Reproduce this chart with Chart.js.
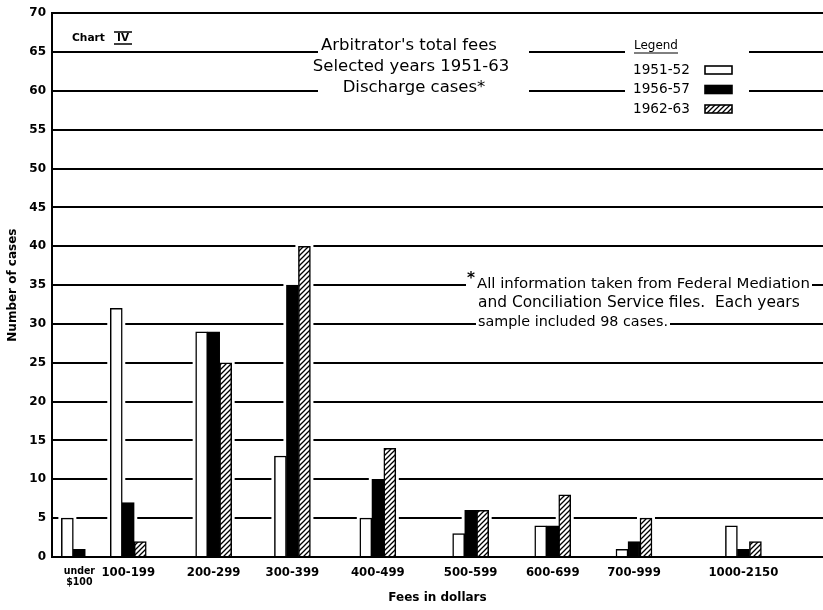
<!DOCTYPE html>
<html lang="en">
<head>
<meta charset="UTF-8">
<title>Arbitrator's total fees</title>
<style>
  html,body{margin:0;padding:0;background:#fff;}
  #wrap{width:823px;height:610px;}
</style>
<script src="https://cdn.jsdelivr.net/npm/chart.js"></script>
</head>
<body>
<div id="wrap"><canvas id="c" width="823" height="610"></canvas></div>
<script>
// fee classes, in the order of the original chart
const categories = [['under', '$100'], '100-199', '200-299', '300-399', '400-499', '500-599', '600-699', '700-999', '1000-2150'];
// the groups are not evenly spaced in the original, so x is a slot number
const slots = [0.33, 0.92, 1.95, 2.9, 3.93, 5.05, 6.04, 7.02, 8.34];
const seriesNames = ['1951-52', '1956-57', '1962-63'];
const cases1951 = [5, 32, 29, 13, 5, 3, 4, 1, 4];
const cases1956 = [1, 7, 29, 35, 10, 6, 4, 2, 1];
const cases1962 = [0, 2, 25, 40, 14, 6, 8, 5, 2];
const yTicks = [0, 5, 10, 15, 20, 25, 30, 35, 40, 45, 50, 55, 60, 65, 70];

const FONT = '"DejaVu Sans", Verdana, sans-serif';
const NARROW = '"DejaVu Sans Condensed", "Liberation Sans Narrow", "Liberation Sans", sans-serif';
const ctx = document.getElementById('c').getContext('2d');

// "/" hatching like the 1962-63 bars
function makeHatch() {
  const p = document.createElement('canvas');
  p.width = 5; p.height = 5;
  const g = p.getContext('2d');
  g.fillStyle = '#fff'; g.fillRect(0, 0, 5, 5);
  g.strokeStyle = '#000'; g.lineWidth = 1.3;
  g.beginPath();
  g.moveTo(-1, 6); g.lineTo(6, -1);
  g.moveTo(-1, 1); g.lineTo(1, -1);
  g.moveTo(4, 6); g.lineTo(6, 4);
  g.stroke();
  return ctx.createPattern(p, 'repeat');
}
const hatch = makeHatch();
const fills = ['#fff', '#000', hatch];
const values = [cases1951, cases1956, cases1962];

// write a line so that it is as wide as in the scan
function textTo(c, str, x, y, width, weight, align) {
  c.font = weight + ' 20px ' + FONT;
  const size = 20 * width / c.measureText(str).width;
  c.font = weight + ' ' + size.toFixed(2) + 'px ' + FONT;
  c.textAlign = align || 'left';
  c.fillText(str, x, y);
}

// white gaps in the grid behind the texts and around each bar, then the texts
const paperText = {
  id: 'paperText',
  beforeDatasetsDraw(chart) {
    const c = chart.ctx;
    c.save();
    c.fillStyle = '#fff';
    c.fillRect(318, 36, 211, 64);   // title
    c.fillRect(625, 36, 124, 64);   // legend
    c.fillRect(466, 276, 346, 18);  // footnote line 1
    c.fillRect(476, 315, 194, 18);  // footnote line 3
    chart.data.datasets.forEach((ds, i) => {
      chart.getDatasetMeta(i).data.forEach(bar => {
        if (!bar.height) return;
        c.fillRect(bar.x - bar.width / 2 - 3, bar.y - 3, bar.width + 6, bar.base - bar.y + 2);
      });
    });
    c.restore();
  },
  afterDraw(chart) {
    const c = chart.ctx;
    c.save();
    c.fillStyle = '#000';
    c.strokeStyle = '#000';
    c.textBaseline = 'middle';

    // Chart IV
    textTo(c, 'Chart', 72, 38, 33, 'bold');
    textTo(c, 'IV', 117, 38, 12, 'bold');
    c.lineWidth = 1.4;
    c.beginPath();
    c.moveTo(114, 32); c.lineTo(132, 32);
    c.moveTo(114, 44); c.lineTo(132, 44);
    c.stroke();

    // title
    c.font = '16.5px ' + FONT;
    c.textAlign = 'center';
    c.fillText("Arbitrator's total fees", 409, 46);
    c.fillText('Selected years 1951-63', 411, 67);
    c.fillText('Discharge cases*', 414, 88);

    // legend
    textTo(c, 'Legend', 634, 46, 44, 'normal');
    c.lineWidth = 1;
    c.beginPath(); c.moveTo(634, 53); c.lineTo(678, 53); c.stroke();
    seriesNames.forEach((name, i) => {
      const y = 70 + i * 19.5;
      textTo(c, name, 633, y, 57, 'normal');
      c.fillStyle = fills[i];
      c.fillRect(705, y - 4, 27, 8);
      c.fillStyle = '#000';
      c.lineWidth = 1.6;
      c.strokeRect(705, y - 4, 27, 8);
    });

    // footnote
    textTo(c, '*', 467, 279, 8, 'bold');
    textTo(c, 'All information taken from Federal Mediation', 477, 284, 333, 'normal');
    textTo(c, 'and Conciliation Service files.  Each years', 478, 303, 322, 'normal');
    textTo(c, 'sample included 98 cases.', 478, 322, 190, 'normal');
    c.restore();
  }
};

new Chart(ctx, {
  type: 'bar',
  data: {
    datasets: seriesNames.map((name, i) => ({
      label: name,
      data: slots.map((x, k) => ({ x, y: values[i][k] })),
      backgroundColor: fills[i],
      borderColor: '#000',
      borderWidth: 1.5
    }))
  },
  options: {
    responsive: false,
    animation: false,
    devicePixelRatio: 1,
    layout: { padding: { top: 13, right: 0, left: 0, bottom: 0 } },
    datasets: { bar: { barThickness: 12 } },
    plugins: { legend: { display: false }, tooltip: { enabled: false } },
    scales: {
      x: {
        type: 'linear',
        offset: false,
        min: 0,
        max: 9.3,
        afterBuildTicks: s => { s.ticks = slots.map(v => ({ value: v })); },
        afterFit: s => { s.height = 53; },
        grid: { display: false, drawTicks: false, offset: false },
        border: { display: true, color: '#000', width: 2 },
        ticks: {
          autoSkip: false,
          maxRotation: 0,
          padding: 8,
          color: '#000',
          callback: (v, i) => categories[i],
          font: c => (c.index === 0
            ? { family: NARROW, size: 10.5, weight: 'bold', lineHeight: 1.1 }
            : { family: NARROW, size: 13, weight: 'bold' })
        },
        title: {
          display: true,
          text: 'Fees in dollars',
          color: '#000',
          font: { family: FONT, size: 12, weight: 'bold' },
          padding: { top: 0, bottom: 5 }
        }
      },
      y: {
        min: 0,
        max: 70,
        afterBuildTicks: s => { s.ticks = yTicks.map(v => ({ value: v })); },
        afterFit: s => { s.width = 52; },
        grid: { color: '#000', lineWidth: 2, drawTicks: false },
        border: { display: true, color: '#000', width: 2 },
        ticks: {
          padding: 6,
          color: '#000',
          font: { family: FONT, size: 12, weight: 'bold' }
        },
        title: {
          display: true,
          text: 'Number of cases',
          color: '#000',
          font: { family: FONT, size: 12, weight: 'bold' },
          padding: { top: 6, bottom: 2 }
        }
      }
    }
  },
  plugins: [paperText]
});
</script>
</body>
</html>
